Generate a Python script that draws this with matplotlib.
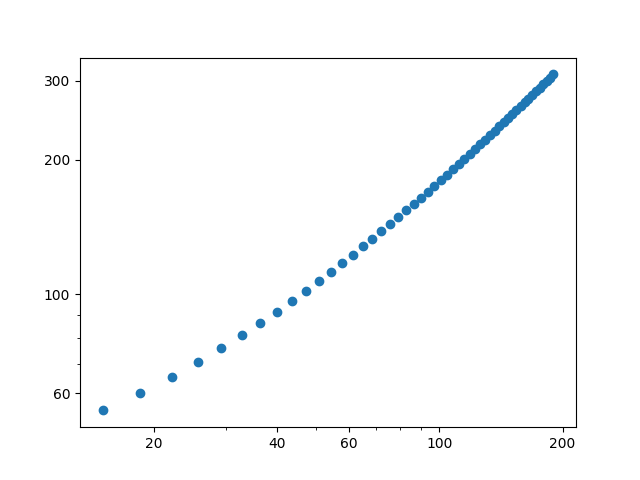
import matplotlib
matplotlib.use("Agg")
import matplotlib.pyplot as plt
from matplotlib.ticker import NullFormatter

# values
x = [15.0, 18.57, 22.14, 25.71, 29.29, 32.86, 36.43, 40.0, 43.57, 47.14,
     50.71, 54.29, 57.86, 61.43, 65.0, 68.57, 72.14, 75.71, 79.29, 82.86,
     86.43, 90.0, 93.57, 97.14, 100.71, 104.29, 107.86, 111.43, 115.0, 118.57,
     122.14, 125.71, 129.29, 132.86, 136.43, 140.0, 143.57, 147.14, 150.71, 154.29,
     157.86, 161.43, 165.0, 168.57, 172.14, 175.71, 179.29, 182.86, 186.43, 190.0]
y = [55.0, 60.2, 65.41, 70.61, 75.82, 81.02, 86.22, 91.43, 96.63, 101.84,
     107.04, 112.24, 117.45, 122.65, 127.86, 133.06, 138.27, 143.47, 148.67, 153.88,
     159.08, 164.29, 169.49, 174.69, 179.9, 185.1, 190.31, 195.51, 200.71, 205.92,
     211.12, 216.33, 221.53, 226.73, 231.94, 237.14, 242.35, 247.55, 252.76, 257.96,
     263.16, 268.37, 273.57, 278.78, 283.98, 289.18, 294.39, 299.59, 304.8, 310.0]

xticks = [20, 40, 60, 100, 200]
yticks = [60, 100, 200, 300]

fig, ax = plt.subplots(figsize=(6.4, 4.8), dpi=100)
ax.scatter(x, y)
ax.set_xscale('log')
ax.set_yscale('log')
ax.set_xticks(xticks, [str(t) for t in xticks])
ax.set_yticks(yticks, [str(t) for t in yticks])
ax.xaxis.set_minor_formatter(NullFormatter())
ax.yaxis.set_minor_formatter(NullFormatter())

fig.savefig('out.png')
